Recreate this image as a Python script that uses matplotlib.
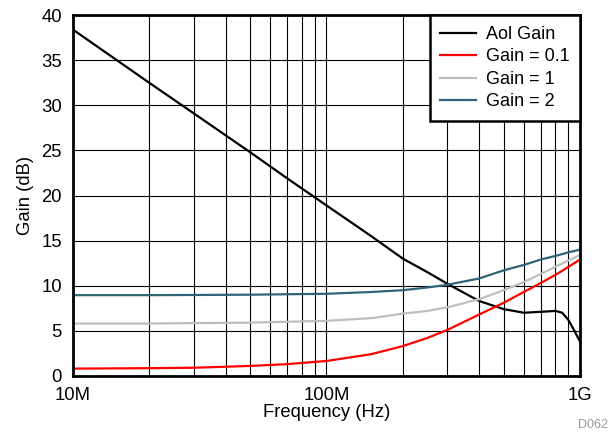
import numpy as np
import matplotlib.pyplot as plt
from matplotlib.ticker import FixedLocator, NullFormatter

plt.rcParams['font.family'] = ['Liberation Sans', 'DejaVu Sans']

# frequency in Hz
freq = np.array([10, 20, 30, 50, 70, 100, 150, 200, 250, 300, 400, 500, 600,
                 700, 800, 850, 900, 950, 1000]) * 1e6
aol = [38.4, 32.5, 29.1, 24.8, 21.9, 18.9, 15.5, 13.0, 11.5, 10.2, 8.3, 7.4,
       7.0, 7.1, 7.2, 7.0, 6.2, 5.0, 3.8]
g01 = [0.8, 0.85, 0.9, 1.1, 1.3, 1.65, 2.4, 3.3, 4.2, 5.1, 6.8, 8.1, 9.3,
       10.3, 11.2, 11.65, 12.1, 12.5, 12.9]
g1 = [5.8, 5.8, 5.85, 5.9, 6.0, 6.1, 6.4, 6.9, 7.2, 7.6, 8.5, 9.5, 10.4,
      11.3, 12.1, 12.45, 12.8, 13.1, 13.4]
g2 = [8.95, 8.95, 8.97, 9.0, 9.05, 9.1, 9.3, 9.5, 9.8, 10.1, 10.8, 11.7,
      12.3, 12.9, 13.3, 13.5, 13.7, 13.85, 14.0]

xticks = [1e7, 1e8, 1e9]
xlabels = ['10M', '100M', '1G']

fig = plt.figure(figsize=(6.08, 4.34), dpi=100)
ax = fig.add_axes([0.12, 0.134, 0.834, 0.831])

ax.plot(freq, aol, color='black', lw=1.6, label='Aol Gain')
ax.plot(freq, g01, color='#ff0000', lw=1.6, label='Gain = 0.1')
ax.plot(freq, g1, color='#bebebe', lw=1.6, label='Gain = 1')
ax.plot(freq, g2, color='#2f6479', lw=1.6, label='Gain = 2')

ax.set_xscale('log')
ax.set_xlim(1e7, 1e9)
ax.set_ylim(0, 40)
ax.set_xticks(xticks)
ax.set_xticklabels(xlabels)
minors = [m * d for d in (1e7, 1e8) for m in range(2, 10)]
ax.xaxis.set_minor_locator(FixedLocator(minors))
ax.xaxis.set_minor_formatter(NullFormatter())
ax.set_yticks(range(0, 41, 5))
ax.grid(True, which='both', color='black', lw=0.8)
ax.tick_params(which='both', length=0, labelsize=13.3)
ax.tick_params(axis='y', pad=8)
ax.tick_params(axis='x', pad=8)
for s in ax.spines.values():
    s.set_linewidth(2)

ax.set_xlabel('Frequency (Hz)', fontsize=13.3, labelpad=0)
ax.set_ylabel('Gain (dB)', fontsize=13.3, labelpad=5)

leg = ax.legend(loc='upper right', fontsize=13, fancybox=False, framealpha=1,
                edgecolor='black', borderaxespad=0, handlelength=1.95,
                handletextpad=0.55, labelspacing=0.3, borderpad=0.6)
leg.get_frame().set_linewidth(1.8)

fig.text(0.951, 0.013, 'D062', fontsize=9, color='#999999')

fig.savefig('out.png', dpi=100)
